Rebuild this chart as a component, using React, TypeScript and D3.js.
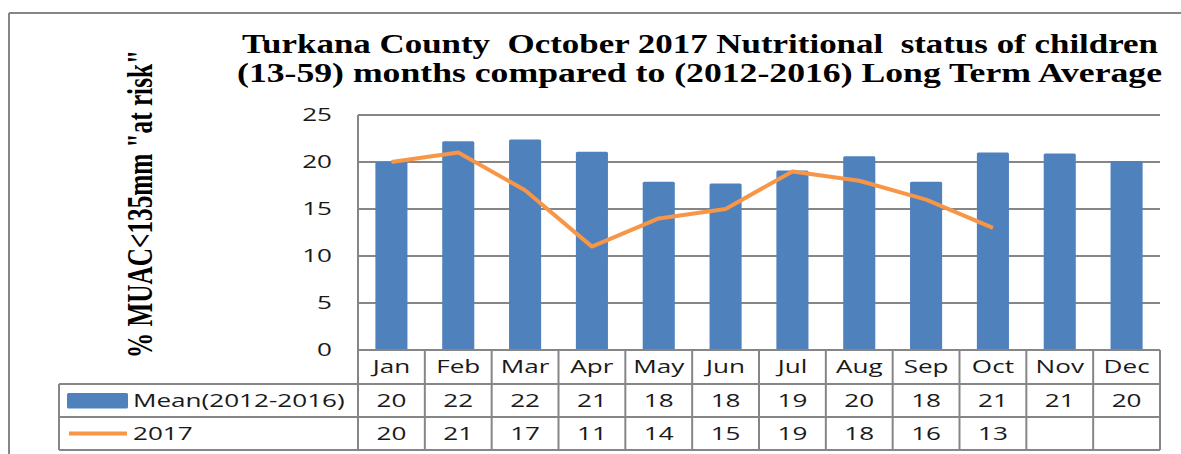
import React from "react";
import * as d3 from "d3";

const months = ["Jan", "Feb", "Mar", "Apr", "May", "Jun", "Jul", "Aug", "Sep", "Oct", "Nov", "Dec"];
const meanValues = [20.0, 22.2, 22.4, 21.1, 17.9, 17.7, 19.1, 20.6, 17.9, 21.0, 20.9, 20.1];
const meanLabels = ["20", "22", "22", "21", "18", "18", "19", "20", "18", "21", "21", "20"];
const values2017 = [20, 21, 17, 11, 14, 15, 19, 18, 16, 13];
const yTicks = [0, 5, 10, 15, 20, 25];
const titleLines = [
  "Turkana County  October 2017 Nutritional  status of children",
  "(13-59) months compared to (2012-2016) Long Term Average",
];
const yTitle = '% MUAC<135mm "at risk"';
const seriesNames = ["Mean(2012-2016)", "2017"];

const W = 1181;
const H = 454;
const L = 358, R = 1160, T = 115, B = 350;
const rowY = [350, 384, 417, 450];
const tableLeft = 59;
const BLUE = "#4F81BD";
const ORANGE = "#F79646";
const GRID = "#868686";
const SANS = "'Open Sans', sans-serif";
const SERIF = "'Liberation Serif', 'Times New Roman', serif";
const SX = 1.45;

function T2({ x, y, children, anchor = "middle", size = 18 }: any) {
  return (
    <text
      transform={`translate(${x},${y}) scale(${SX},1)`}
      textAnchor={anchor}
      dy="0.36em"
      fontFamily={SANS}
      fontSize={size}
      fill="#1a1a1a"
    >
      {children}
    </text>
  );
}

export default function App() {
  const x = d3.scaleBand<string>().domain(months).range([L, R]).paddingInner(0).paddingOuter(0);
  const y = d3.scaleLinear().domain([0, 25]).range([B, T]);
  const bw = x.bandwidth();
  const barW = bw * 0.48;
  const line = d3
    .line<number>()
    .x((_, i) => (x(months[i]) as number) + bw / 2)
    .y((d) => y(d));

  return (
    <svg width={W} height={H} style={{ position: "absolute", left: 0, top: 0, background: "#fff" }}>
      <rect x={0} y={0} width={W} height={H} fill="#fff" />
      {/* outer border */}
      <line x1={9} y1={13} x2={W} y2={13} stroke={GRID} strokeWidth={2} />
      <line x1={9} y1={13} x2={9} y2={H} stroke={GRID} strokeWidth={2} />

      {/* title */}
      {titleLines.map((t, i) => (
        <text
          key={i}
          x={i === 0 ? 242 : 237}
          y={i === 0 ? 53 : 82}
          fontFamily={SERIF}
          fontWeight="bold"
          fontSize={27}
          textLength={i === 0 ? 916 : 925}
          lengthAdjust="spacingAndGlyphs"
          fill="#000"
          style={{ whiteSpace: "pre" }}
        >
          {t}
        </text>
      ))}

      {/* y title */}
      <text
        transform={`translate(152,358) scale(1.35,1) rotate(-90)`}
        fontFamily={SERIF}
        fontWeight="bold"
        fontSize={26}
        textLength={308}
        lengthAdjust="spacingAndGlyphs"
        fill="#000"
      >
        {yTitle}
      </text>

      {/* grid */}
      {yTicks.filter((t) => t > 0).map((t) => (
        <line key={t} x1={L} x2={R} y1={y(t)} y2={y(t)} stroke={GRID} strokeWidth={2} />
      ))}
      {yTicks.map((t) => (
        <T2 key={t} x={332} y={y(t)} anchor="end">
          {t}
        </T2>
      ))}

      {/* bars */}
      {meanValues.map((v, i) => (
        <rect
          key={i}
          x={(x(months[i]) as number) + (bw - barW) / 2}
          y={y(v)}
          width={barW}
          height={y(0) - y(v)}
          fill={BLUE}
          rx={1.5}
        />
      ))}

      {/* line */}
      <path d={line(values2017) as string} fill="none" stroke={ORANGE} strokeWidth={4} strokeLinejoin="round" />

      {/* table */}
      <line x1={L} x2={R} y1={rowY[0]} y2={rowY[0]} stroke={GRID} strokeWidth={2} />
      {rowY.slice(1).map((ry) => (
        <line key={ry} x1={tableLeft} x2={R} y1={ry} y2={ry} stroke={GRID} strokeWidth={2} />
      ))}
      <line x1={tableLeft} x2={tableLeft} y1={rowY[1]} y2={rowY[3]} stroke={GRID} strokeWidth={2} />
      <line x1={L} x2={L} y1={T} y2={rowY[3]} stroke={GRID} strokeWidth={2} />
      {months.map((m, i) => (
        <line
          key={m}
          x1={(x(m) as number) + bw}
          x2={(x(m) as number) + bw}
          y1={rowY[0]}
          y2={rowY[3]}
          stroke={GRID}
          strokeWidth={2}
        />
      ))}
      {months.map((m) => (
        <T2 key={m} x={(x(m) as number) + bw / 2} y={(rowY[0] + rowY[1]) / 2}>
          {m}
        </T2>
      ))}
      {meanLabels.map((v, i) => (
        <T2 key={i} x={(x(months[i]) as number) + bw / 2} y={(rowY[1] + rowY[2]) / 2}>
          {v}
        </T2>
      ))}
      {values2017.map((v, i) => (
        <T2 key={i} x={(x(months[i]) as number) + bw / 2} y={(rowY[2] + rowY[3]) / 2}>
          {v}
        </T2>
      ))}

      {/* legend keys */}
      <rect x={67} y={393} width={61} height={15.5} fill={BLUE} rx={1.5} />
      <line x1={69} x2={127} y1={433.5} y2={433.5} stroke={ORANGE} strokeWidth={4} />
      <T2 x={133} y={(rowY[1] + rowY[2]) / 2} anchor="start">
        {seriesNames[0]}
      </T2>
      <T2 x={133} y={(rowY[2] + rowY[3]) / 2} anchor="start">
        {seriesNames[1]}
      </T2>
    </svg>
  );
}
